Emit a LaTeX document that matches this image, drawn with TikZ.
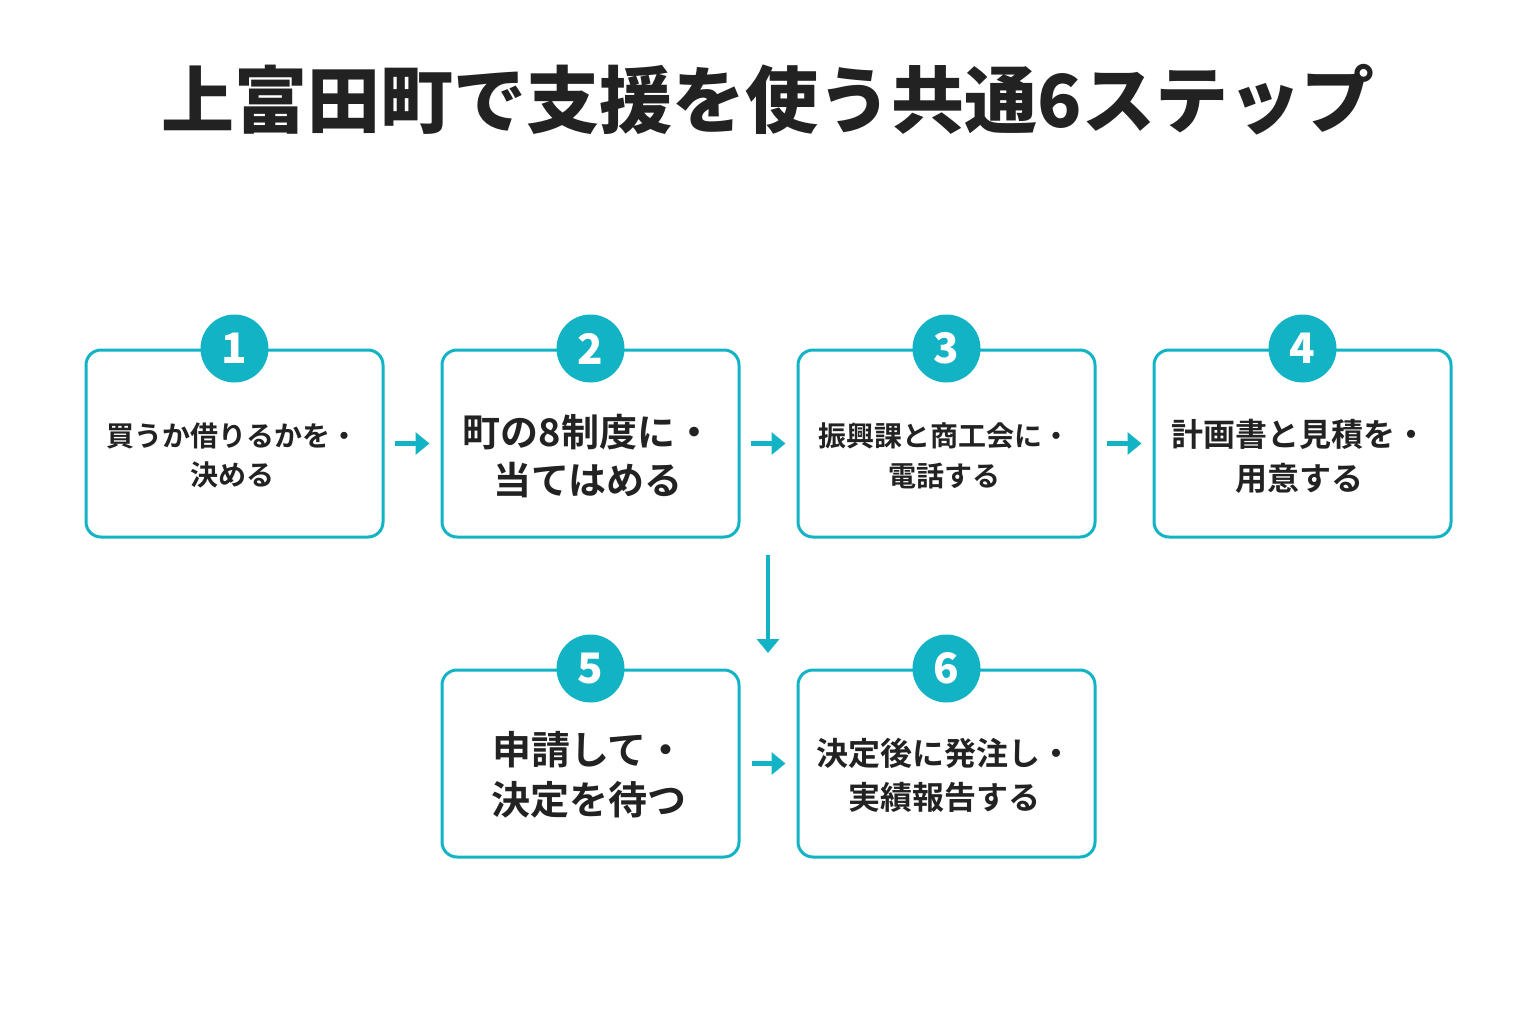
\documentclass[tikz,border=0pt]{standalone}
\usepackage{fontspec}
\usetikzlibrary{arrows.meta,calc}
\newfontfamily\cjk{Noto Sans CJK JP}[BoldFont={Noto Sans CJK JP Bold}]
\newfontfamily\cjkblack{Noto Sans CJK JP Black}
\definecolor{teal}{HTML}{13B3C6}
\definecolor{ink}{HTML}{222222}
\tikzset{
  stepbox/.style={draw=teal, line width=3pt, rounded corners=15pt, minimum width=297pt, minimum height=187pt, inner sep=0pt, fill=white},
  numdot/.style={circle, fill=teal, minimum size=68pt, inner sep=0pt, text=white, font=\fontsize{42}{42}\selectfont\cjkblack},
  steptext/.style={text=ink, align=center, inner sep=0pt},
  flow/.style={draw=teal, line width=4.5pt, -{Triangle[length=14pt,width=22pt]}},
}
\begin{document}
\begin{tikzpicture}[x=1pt,y=-1pt]
\useasboundingbox (0,0) rectangle (1536,1024);
\node[text=ink, font=\fontsize{73}{73}\selectfont\cjkblack] (title) at (768,100) {上富田町で支援を使う共通6ステップ};
% boxes
\node[stepbox] (b1) at (234.5,443.5) {};
\node[stepbox] (b2) at (590.5,443.5) {};
\node[stepbox] (b3) at (946.5,443.5) {};
\node[stepbox] (b4) at (1302.5,443.5) {};
\node[stepbox] (b5) at (590.5,763.5) {};
\node[stepbox] (b6) at (946.5,763.5) {};
% numbers
\node[numdot] (n1) at (b1.north) {1};
\node[numdot] (n2) at (b2.north) {2};
\node[numdot] (n3) at (b3.north) {3};
\node[numdot] (n4) at (b4.north) {4};
\node[numdot] (n5) at (b5.north) {5};
\node[numdot] (n6) at (b6.north) {6};
% texts
\node[steptext, font=\fontsize{28}{39}\selectfont\cjk\bfseries] (t1) at (232,455) {買うか借りるかを・\\決める};
\node[steptext, font=\fontsize{38}{48}\selectfont\cjk\bfseries] (t2) at (588,456) {町の8制度に・\\当てはめる};
\node[steptext, font=\fontsize{28}{40}\selectfont\cjk\bfseries] (t3) at (944,456) {振興課と商工会に・\\電話する};
\node[steptext, font=\fontsize{32}{44}\selectfont\cjk\bfseries] (t4) at (1299,456) {計画書と見積を・\\用意する};
\node[steptext, font=\fontsize{39}{50}\selectfont\cjk\bfseries] (t5) at (589,775) {申請して・\\決定を待つ};
\node[steptext, font=\fontsize{32}{44}\selectfont\cjk\bfseries] (t6) at (944,775) {決定後に発注し・\\実績報告する};
% connectors
\draw[flow, shorten <=10pt, shorten >=11pt] (b1.east) -- (b2.west);
\draw[flow, shorten <=10pt, shorten >=11pt] (b2.east) -- (b3.west);
\draw[flow, shorten <=10pt, shorten >=11pt] (b3.east) -- (b4.west);
\draw[flow, shorten <=11pt, shorten >=11pt] (b5.east) -- (b6.west);
\coordinate (vtop) at (768,555);
\coordinate (vbot) at (768,653);
\draw[flow] (vtop) -- (vbot);
\end{tikzpicture}
\end{document}
